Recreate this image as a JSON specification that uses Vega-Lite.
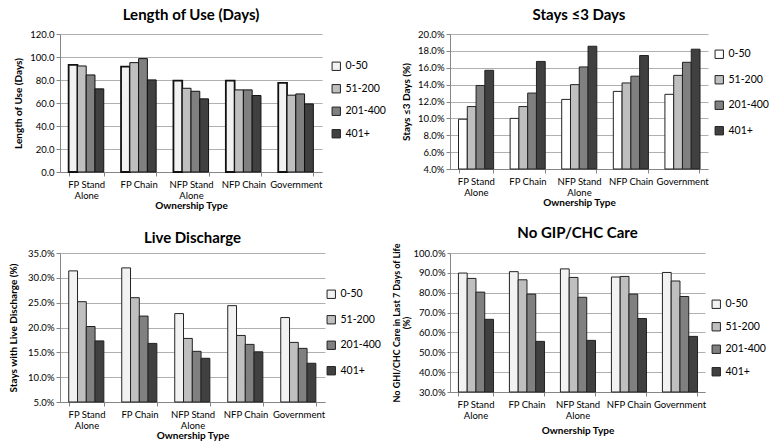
{
  "$schema": "https://vega.github.io/schema/vega-lite/v6.json",
  "padding": {"left": 8, "top": 8, "right": 0, "bottom": 0},
  "background": "white",
  "datasets": {
    "all": [
      {"metric": "length", "type": "FP Stand Alone", "size": "0-50", "value": 93.1},
      {"metric": "length", "type": "FP Stand Alone", "size": "51-200", "value": 92.2},
      {"metric": "length", "type": "FP Stand Alone", "size": "201-400", "value": 84.4},
      {"metric": "length", "type": "FP Stand Alone", "size": "401+", "value": 72.3},
      {"metric": "length", "type": "FP Chain", "size": "0-50", "value": 91.6},
      {"metric": "length", "type": "FP Chain", "size": "51-200", "value": 95.1},
      {"metric": "length", "type": "FP Chain", "size": "201-400", "value": 98.6},
      {"metric": "length", "type": "FP Chain", "size": "401+", "value": 80.1},
      {"metric": "length", "type": "NFP Stand Alone", "size": "0-50", "value": 79.5},
      {"metric": "length", "type": "NFP Stand Alone", "size": "51-200", "value": 72.8},
      {"metric": "length", "type": "NFP Stand Alone", "size": "201-400", "value": 70.2},
      {"metric": "length", "type": "NFP Stand Alone", "size": "401+", "value": 63.6},
      {"metric": "length", "type": "NFP Chain", "size": "0-50", "value": 79.5},
      {"metric": "length", "type": "NFP Chain", "size": "51-200", "value": 71.4},
      {"metric": "length", "type": "NFP Chain", "size": "201-400", "value": 71.4},
      {"metric": "length", "type": "NFP Chain", "size": "401+", "value": 66.5},
      {"metric": "length", "type": "Government", "size": "0-50", "value": 77.5},
      {"metric": "length", "type": "Government", "size": "51-200", "value": 66.8},
      {"metric": "length", "type": "Government", "size": "201-400", "value": 67.9},
      {"metric": "length", "type": "Government", "size": "401+", "value": 59.2},

      {"metric": "stays", "type": "FP Stand Alone", "size": "0-50", "value": 9.9},
      {"metric": "stays", "type": "FP Stand Alone", "size": "51-200", "value": 11.4},
      {"metric": "stays", "type": "FP Stand Alone", "size": "201-400", "value": 13.9},
      {"metric": "stays", "type": "FP Stand Alone", "size": "401+", "value": 15.7},
      {"metric": "stays", "type": "FP Chain", "size": "0-50", "value": 10.0},
      {"metric": "stays", "type": "FP Chain", "size": "51-200", "value": 11.4},
      {"metric": "stays", "type": "FP Chain", "size": "201-400", "value": 13.0},
      {"metric": "stays", "type": "FP Chain", "size": "401+", "value": 16.75},
      {"metric": "stays", "type": "NFP Stand Alone", "size": "0-50", "value": 12.25},
      {"metric": "stays", "type": "NFP Stand Alone", "size": "51-200", "value": 14.0},
      {"metric": "stays", "type": "NFP Stand Alone", "size": "201-400", "value": 16.1},
      {"metric": "stays", "type": "NFP Stand Alone", "size": "401+", "value": 18.55},
      {"metric": "stays", "type": "NFP Chain", "size": "0-50", "value": 13.2},
      {"metric": "stays", "type": "NFP Chain", "size": "51-200", "value": 14.2},
      {"metric": "stays", "type": "NFP Chain", "size": "201-400", "value": 15.0},
      {"metric": "stays", "type": "NFP Chain", "size": "401+", "value": 17.45},
      {"metric": "stays", "type": "Government", "size": "0-50", "value": 12.85},
      {"metric": "stays", "type": "Government", "size": "51-200", "value": 15.1},
      {"metric": "stays", "type": "Government", "size": "201-400", "value": 16.65},
      {"metric": "stays", "type": "Government", "size": "401+", "value": 18.2},

      {"metric": "live", "type": "FP Stand Alone", "size": "0-50", "value": 31.4},
      {"metric": "live", "type": "FP Stand Alone", "size": "51-200", "value": 25.2},
      {"metric": "live", "type": "FP Stand Alone", "size": "201-400", "value": 20.2},
      {"metric": "live", "type": "FP Stand Alone", "size": "401+", "value": 17.3},
      {"metric": "live", "type": "FP Chain", "size": "0-50", "value": 32.0},
      {"metric": "live", "type": "FP Chain", "size": "51-200", "value": 26.0},
      {"metric": "live", "type": "FP Chain", "size": "201-400", "value": 22.3},
      {"metric": "live", "type": "FP Chain", "size": "401+", "value": 16.8},
      {"metric": "live", "type": "NFP Stand Alone", "size": "0-50", "value": 22.8},
      {"metric": "live", "type": "NFP Stand Alone", "size": "51-200", "value": 17.8},
      {"metric": "live", "type": "NFP Stand Alone", "size": "201-400", "value": 15.2},
      {"metric": "live", "type": "NFP Stand Alone", "size": "401+", "value": 13.8},
      {"metric": "live", "type": "NFP Chain", "size": "0-50", "value": 24.4},
      {"metric": "live", "type": "NFP Chain", "size": "51-200", "value": 18.4},
      {"metric": "live", "type": "NFP Chain", "size": "201-400", "value": 16.6},
      {"metric": "live", "type": "NFP Chain", "size": "401+", "value": 15.1},
      {"metric": "live", "type": "Government", "size": "0-50", "value": 22.0},
      {"metric": "live", "type": "Government", "size": "51-200", "value": 17.0},
      {"metric": "live", "type": "Government", "size": "201-400", "value": 15.8},
      {"metric": "live", "type": "Government", "size": "401+", "value": 12.8},

      {"metric": "nogip", "type": "FP Stand Alone", "size": "0-50", "value": 89.9},
      {"metric": "nogip", "type": "FP Stand Alone", "size": "51-200", "value": 87.2},
      {"metric": "nogip", "type": "FP Stand Alone", "size": "201-400", "value": 80.3},
      {"metric": "nogip", "type": "FP Stand Alone", "size": "401+", "value": 66.6},
      {"metric": "nogip", "type": "FP Chain", "size": "0-50", "value": 90.6},
      {"metric": "nogip", "type": "FP Chain", "size": "51-200", "value": 86.5},
      {"metric": "nogip", "type": "FP Chain", "size": "201-400", "value": 79.3},
      {"metric": "nogip", "type": "FP Chain", "size": "401+", "value": 55.5},
      {"metric": "nogip", "type": "NFP Stand Alone", "size": "0-50", "value": 92.0},
      {"metric": "nogip", "type": "NFP Stand Alone", "size": "51-200", "value": 87.7},
      {"metric": "nogip", "type": "NFP Stand Alone", "size": "201-400", "value": 77.7},
      {"metric": "nogip", "type": "NFP Stand Alone", "size": "401+", "value": 56.0},
      {"metric": "nogip", "type": "NFP Chain", "size": "0-50", "value": 87.9},
      {"metric": "nogip", "type": "NFP Chain", "size": "51-200", "value": 88.2},
      {"metric": "nogip", "type": "NFP Chain", "size": "201-400", "value": 79.3},
      {"metric": "nogip", "type": "NFP Chain", "size": "401+", "value": 67.0},
      {"metric": "nogip", "type": "Government", "size": "0-50", "value": 90.2},
      {"metric": "nogip", "type": "Government", "size": "51-200", "value": 85.9},
      {"metric": "nogip", "type": "Government", "size": "201-400", "value": 78.1},
      {"metric": "nogip", "type": "Government", "size": "401+", "value": 58.0}
    ]
  },
  "data": {"name": "all"},
  "resolve": {"scale": {"color": "independent"}, "legend": {"color": "independent"}},
  "spacing": 14,
  "vconcat": [
    {
      "hconcat": [
        {
          "width": 262, "height": 138,
          "title": "Length of Use (Days)",
          "transform": [{"filter": "datum.metric == 'length'"}],
          "mark": {"type": "bar", "stroke": "#111111", "strokeWidth": 1},
          "encoding": {
            "x": {"field": "type", "type": "nominal", "sort": ["FP Stand Alone", "FP Chain", "NFP Stand Alone", "NFP Chain", "Government"],
              "scale": {"paddingInner": 0.33, "paddingOuter": 0.165},
              "axis": {"title": "Ownership Type", "labelExpr": "datum.value == 'FP Stand Alone' ? ['FP Stand', 'Alone'] : datum.value == 'NFP Stand Alone' ? ['NFP Stand', 'Alone'] : datum.label"}},
            "xOffset": {"field": "size", "type": "nominal", "sort": ["0-50", "51-200", "201-400", "401+"]},
            "y": {"field": "value", "type": "quantitative", "scale": {"domain": [0, 120]},
              "axis": {"title": "Length of Use (Days)", "values": [0, 20, 40, 60, 80, 100, 120], "format": ".1f"}},
            "color": {"field": "size", "type": "nominal",
              "scale": {"domain": ["0-50", "51-200", "201-400", "401+"], "range": ["#f2f2f2", "#bfbfbf", "#808080", "#404040"]},
              "legend": {"orient": "none", "legendX": 271, "legendY": 27, "rowPadding": 9.5}},
            "strokeWidth": {"condition": {"test": "datum.size == '0-50'", "value": 1.8}, "value": 1}
          }
        },
        {
          "width": 258, "height": 135,
          "title": "Stays ≤3 Days",
          "transform": [{"filter": "datum.metric == 'stays'"}],
          "mark": {"type": "bar", "stroke": "#222222", "strokeWidth": 1},
          "encoding": {
            "x": {"field": "type", "type": "nominal", "sort": ["FP Stand Alone", "FP Chain", "NFP Stand Alone", "NFP Chain", "Government"],
              "scale": {"paddingInner": 0.33, "paddingOuter": 0.165},
              "axis": {"title": "Ownership Type", "labelExpr": "datum.value == 'FP Stand Alone' ? ['FP Stand', 'Alone'] : datum.value == 'NFP Stand Alone' ? ['NFP Stand', 'Alone'] : datum.label"}},
            "xOffset": {"field": "size", "type": "nominal", "sort": ["0-50", "51-200", "201-400", "401+"]},
            "y": {"field": "value", "type": "quantitative", "scale": {"domain": [4, 20], "zero": false},
              "axis": {"title": "Stays ≤3 Days (%)", "values": [4, 6, 8, 10, 12, 14, 16, 18, 20], "labelExpr": "format(datum.value, '.1f') + '%'"}},
            "y2": {"datum": 4},
            "color": {"field": "size", "type": "nominal",
              "scale": {"domain": ["0-50", "51-200", "201-400", "401+"], "range": ["#ffffff", "#bfbfbf", "#808080", "#404040"]},
              "legend": {"orient": "none", "legendX": 264, "legendY": 15, "rowPadding": 12.5}}
          }
        }
      ],
      "spacing": 15,
      "resolve": {"scale": {"color": "independent"}, "legend": {"color": "independent"}}
    },
    {
      "hconcat": [
        {
          "width": 265, "height": 149,
          "title": {"text": "Live Discharge", "offset": 2},
          "transform": [{"filter": "datum.metric == 'live'"}],
          "mark": {"type": "bar", "stroke": "#222222", "strokeWidth": 1},
          "encoding": {
            "x": {"field": "type", "type": "nominal", "sort": ["FP Stand Alone", "FP Chain", "NFP Stand Alone", "NFP Chain", "Government"],
              "scale": {"paddingInner": 0.33, "paddingOuter": 0.165},
              "axis": {"title": "Ownership Type", "labelExpr": "datum.value == 'FP Stand Alone' ? ['FP Stand', 'Alone'] : datum.value == 'NFP Stand Alone' ? ['NFP Stand', 'Alone'] : datum.label"}},
            "xOffset": {"field": "size", "type": "nominal", "sort": ["0-50", "51-200", "201-400", "401+"]},
            "y": {"field": "value", "type": "quantitative", "scale": {"domain": [5, 35], "zero": false},
              "axis": {"title": "Stays with Live Discharge (%)", "titlePadding": 9, "values": [5, 10, 15, 20, 25, 30, 35], "labelExpr": "format(datum.value, '.1f') + '%'"}},
            "y2": {"datum": 5},
            "color": {"field": "size", "type": "nominal",
              "scale": {"domain": ["0-50", "51-200", "201-400", "401+"], "range": ["#f2f2f2", "#bfbfbf", "#808080", "#404040"]},
              "legend": {"orient": "none", "legendX": 266, "legendY": 36, "rowPadding": 12.5}}
          }
        },
        {
          "width": 255, "height": 139,
          "title": {"text": "No GIP/CHC Care", "offset": 2},
          "transform": [{"filter": "datum.metric == 'nogip'"}],
          "mark": {"type": "bar", "stroke": "#222222", "strokeWidth": 1},
          "encoding": {
            "x": {"field": "type", "type": "nominal", "sort": ["FP Stand Alone", "FP Chain", "NFP Stand Alone", "NFP Chain", "Government"],
              "scale": {"paddingInner": 0.33, "paddingOuter": 0.165},
              "axis": {"title": "Ownership Type", "titlePadding": 6, "labelExpr": "datum.value == 'FP Stand Alone' ? ['FP Stand', 'Alone'] : datum.value == 'NFP Stand Alone' ? ['NFP Stand', 'Alone'] : datum.label"}},
            "xOffset": {"field": "size", "type": "nominal", "sort": ["0-50", "51-200", "201-400", "401+"]},
            "y": {"field": "value", "type": "quantitative", "scale": {"domain": [30, 100], "zero": false},
              "axis": {"title": ["No GHI/CHC Care in Last 7 Days of Life", "(%)"], "titleFontSize": 9, "titleLineHeight": 10, "titlePadding": 2, "tickSize": 3, "values": [30, 40, 50, 60, 70, 80, 90, 100], "labelExpr": "format(datum.value, '.1f') + '%'"}},
            "y2": {"datum": 30},
            "color": {"field": "size", "type": "nominal",
              "scale": {"domain": ["0-50", "51-200", "201-400", "401+"], "range": ["#f2f2f2", "#bfbfbf", "#808080", "#404040"]},
              "legend": {"orient": "none", "legendX": 261, "legendY": 46, "rowPadding": 9.5}}
          }
        }
      ],
      "spacing": 11,
      "resolve": {"scale": {"color": "independent"}, "legend": {"color": "independent"}}
    }
  ],
  "config": {
    "font": "Lato",
    "view": {"stroke": null},
    "axis": {"labelFont": "Lato", "labelFontSize": 9.5, "labelColor": "#000000", "titleFont": "Lato", "titleFontSize": 10, "titleFontWeight": "bold", "titleColor": "#000000", "domainColor": "#868686", "tickColor": "#868686", "tickSize": 4, "gridColor": "#b0b0b0"},
    "axisX": {"grid": false, "labelAngle": 0, "tickBand": "extent", "titlePadding": 1, "labelPadding": 3, "labelLineHeight": 11},
    "axisY": {"titlePadding": 6, "grid": true},
    "legend": {"title": null, "symbolType": "square", "symbolSize": 70, "symbolStrokeColor": "#222222", "symbolStrokeWidth": 1, "labelFont": "Lato", "labelFontSize": 10.5, "labelColor": "#000000", "symbolOpacity": 1},
    "title": {"font": "Lato", "fontSize": 15, "fontWeight": "bold", "color": "#000000", "anchor": "middle", "offset": 6}
  }
}
